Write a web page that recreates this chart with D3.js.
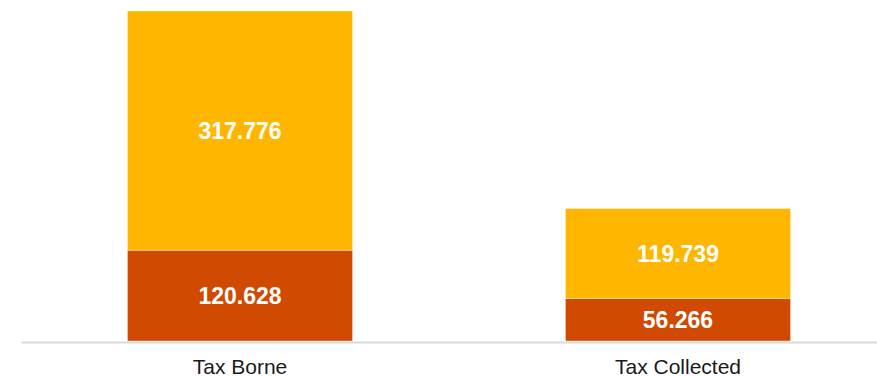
<!DOCTYPE html>
<html>
<head>
<meta charset="utf-8">
<script src="https://cdn.jsdelivr.net/npm/d3@7"></script>
<style>
  html, body { margin: 0; padding: 0; background: #fff; }
  svg { display: block; }
</style>
</head>
<body>
<svg id="chart" width="877" height="376"></svg>
<script>
const categories = ["Tax Borne", "Tax Collected"];
const seriesNames = ["lower", "upper"];
const lowerValues = [120.628, 56.266];
const upperValues = [317.776, 119.739];
const seriesColors = ["#D04A02", "#FFB600"];

const width = 877, height = 376;
const svg = d3.select("#chart");

const rows = categories.map((c, i) => ({ cat: c, lower: lowerValues[i], upper: upperValues[i] }));
const stack = d3.stack().keys(seriesNames);
const stacked = stack(rows);

const x = d3.scaleBand()
  .domain(categories)
  .range([21, 897])
  .paddingInner(0.486)
  .paddingOuter(0.243);

const y = d3.scaleLinear()
  .domain([0, 438.404])
  .range([341, 11]);

const fmt = d3.format(".3f");

const groups = svg.selectAll("g.series")
  .data(stacked)
  .join("g")
  .attr("class", "series")
  .attr("fill", (d, i) => seriesColors[i]);

groups.selectAll("rect")
  .data(d => d)
  .join("rect")
  .attr("x", d => x(d.data.cat))
  .attr("width", x.bandwidth())
  .attr("y", d => y(d[1]))
  .attr("height", d => y(d[0]) - y(d[1]))
  .attr("stroke", "rgba(255,255,255,0.45)")
  .attr("stroke-width", 0.8);

const labelSize = 23;
groups.selectAll("text")
  .data(d => d)
  .join("text")
  .attr("x", d => x(d.data.cat) + x.bandwidth() / 2)
  .attr("y", d => (y(d[0]) + y(d[1])) / 2 + labelSize * 0.36)
  .attr("text-anchor", "middle")
  .attr("fill", "#ffffff")
  .attr("font-family", "Liberation Sans, Arial, sans-serif")
  .attr("font-weight", "bold")
  .attr("font-size", labelSize + "px")
  .text(d => fmt(d[1] - d[0]));

// axis
const axis = svg.append("g")
  .attr("transform", "translate(0,342)")
  .call(d3.axisBottom(x).tickSize(0).tickPadding(0));
axis.select(".domain")
  .attr("stroke", "#d9d9d9")
  .attr("stroke-width", 2);
axis.selectAll(".tick text")
  .attr("font-family", "Liberation Sans, Arial, sans-serif")
  .attr("font-size", "21px")
  .attr("fill", "#1a1a1a")
  .attr("dy", null)
  .attr("y", 32);
</script>
</body>
</html>
